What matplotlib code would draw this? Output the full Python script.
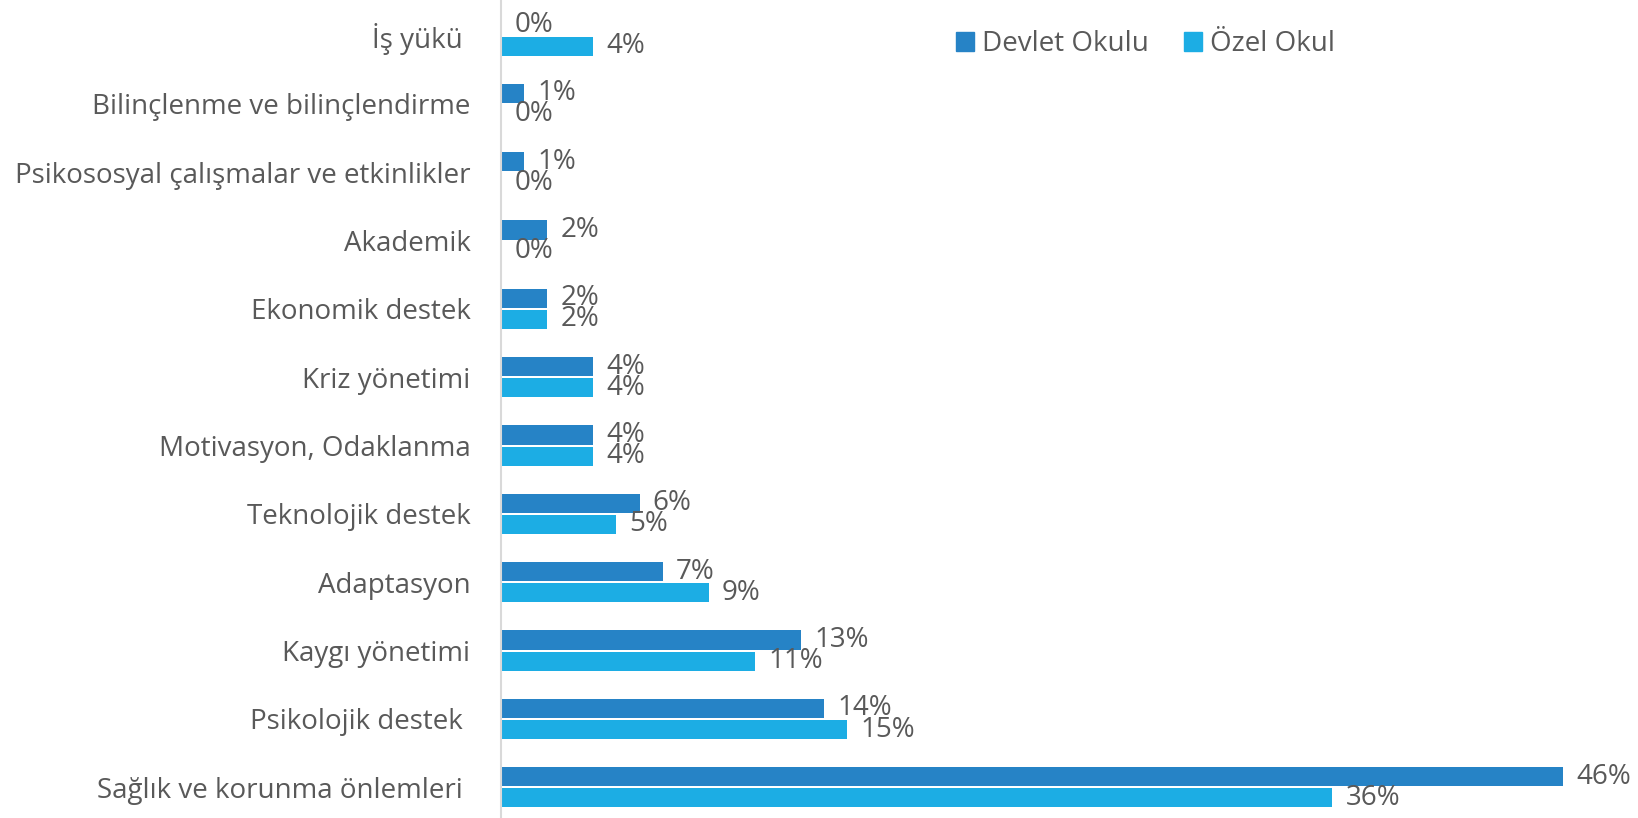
import matplotlib
matplotlib.use('Agg')
import matplotlib.pyplot as plt
import numpy as np
from matplotlib.patches import Patch

plt.rcParams['font.family'] = ['Open Sans', 'DejaVu Sans']

categories = ['İş yükü ', 'Bilinçlenme ve bilinçlendirme', 'Psikososyal çalışmalar ve etkinlikler',
              'Akademik', 'Ekonomik destek', 'Kriz yönetimi', 'Motivasyon, Odaklanma',
              'Teknolojik destek', 'Adaptasyon', 'Kaygı yönetimi', 'Psikolojik destek ',
              'Sağlık ve korunma önlemleri ']
devlet = [0, 1, 1, 2, 2, 4, 4, 6, 7, 13, 14, 46]
ozel = [4, 0, 0, 0, 2, 4, 4, 5, 9, 11, 15, 36]
series_names = ['Devlet Okulu', 'Özel Okul']

c_devlet = '#2683C6'
c_ozel = '#1CADE4'
txt = '#595959'
fs = 20

fig = plt.figure(figsize=(16.38, 8.18), dpi=100)
ax = fig.add_axes([501 / 1638, 0, 1 - 501 / 1638, 1])

y = np.arange(len(categories))
h = 0.28
off = 0.155
b1 = ax.barh(y - off, devlet, height=h, color=c_devlet)
b2 = ax.barh(y + off, ozel, height=h, color=c_ozel)

ax.bar_label(b1, labels=[f'{v}%' for v in devlet], padding=9.5, fontsize=fs, color=txt, clip_on=False)
ax.bar_label(b2, labels=[f'{v}%' for v in ozel], padding=9.5, fontsize=fs, color=txt, clip_on=False)

ax.set_xlim(0, (1638 - 501) / 23.09)
ax.set_ylim(11.45, -0.52)
ax.set_yticks(y)
ax.set_yticklabels(categories, fontsize=fs, color=txt)
ax.tick_params(axis='y', length=0, pad=22)
ax.set_xticks([])
for s in ['top', 'right', 'bottom']:
    ax.spines[s].set_visible(False)
ax.spines['left'].set_color('#D9D9D9')
ax.spines['left'].set_linewidth(1.5)

handles = [Patch(color=c_devlet), Patch(color=c_ozel)]
fig.legend(handles, series_names, loc='center left', bbox_to_anchor=(956 / 1638, 1 - 44 / 818),
           ncol=2, frameon=False, fontsize=fs, labelcolor=txt, handlelength=0.65, handleheight=0.65,
           handletextpad=0.3, columnspacing=1.25, borderpad=0, borderaxespad=0)

fig.savefig('out.png', dpi=100)
